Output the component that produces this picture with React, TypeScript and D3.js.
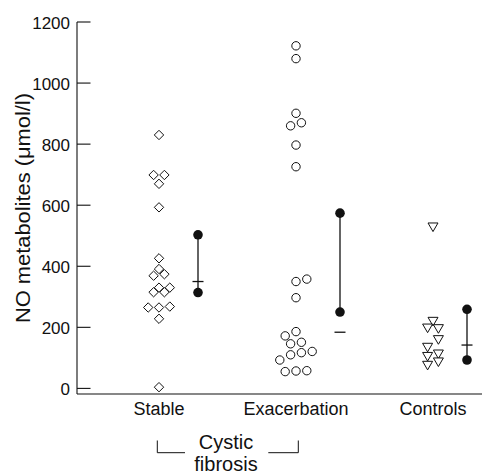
import React from "react";
import * as d3 from "d3";

const categories = ["Stable", "Exacerbation", "Controls"];

const stableValues = [830, 699, 699, 670, 593, 426, 391, 369, 374, 330, 330, 315, 315, 265, 265, 268, 228, 4];
const stableSlots = [0, -1, 1, 0, 0, 0, 0, -1, 1, 0, 2, -1, 1, -2, 0, 2, 0, 0];

const exacerbationValues = [1122, 1080, 901, 870, 860, 797, 726, 358, 350, 297, 186, 172, 146, 151, 110, 117, 121, 93, 55, 57, 58];
const exacerbationSlots = [0, 0, 0, 1, -1, 0, 0, 2, 0, 0, 0, -2, -1, 1, -1, 1, 3, -3, -2, 0, 2];

const controlsValues = [528, 219, 197, 195, 159, 134, 112, 104, 86, 75];
const controlsSlots = [0, 0, -1, 1, 1, -1, 1, -1, 1, -1];

const summaryUpper = [503, 574, 259];
const summaryLower = [314, 250, 93];
const summaryMean = [350, 184, 142];

const yTicks = [0, 200, 400, 600, 800, 1000, 1200];
const yLabel = "NO metabolites (μmol/l)";
const groupLabel = ["Cystic", "fibrosis"];

const W = 482;
const H = 474;
const FONT = "'Liberation Sans', Arial, Helvetica, sans-serif";
const INK = "#111";

export default function App() {
  const y = d3.scaleLinear().domain([0, 1200]).range([388.4, 22]);
  const x = d3.scalePoint<string>().domain(categories).range([159, 433]);
  const slotStep = 5.4;
  const whiskerOffsets = [39, 44, 34];
  const axisX = 77;
  const baseY = 394;

  const groups = [
    { values: stableValues, slots: stableSlots, shape: "diamond" },
    { values: exacerbationValues, slots: exacerbationSlots, shape: "circle" },
    { values: controlsValues, slots: controlsSlots, shape: "triangle" },
  ];

  const diamond = "M0,-4.7L4.7,0L0,4.7L-4.7,0Z";
  const triangle = "M-5,-4.2L5,-4.2L0,4.4Z";

  return (
    <svg width={W} height={H} style={{ position: "absolute", left: 0, top: 0, background: "#fff" }} fontFamily={FONT}>
      {/* axes */}
      <line x1={axisX} x2={axisX} y1={y(1200)} y2={baseY} stroke={INK} strokeWidth={1.1} />
      <line x1={axisX} x2={W} y1={baseY} y2={baseY} stroke={INK} strokeWidth={1.1} />
      {yTicks.map((t) => (
        <g key={t}>
          <line x1={axisX} x2={axisX + 13.5} y1={y(t)} y2={y(t)} stroke={INK} strokeWidth={1.1} />
          <text x={70} y={y(t) + 6.5} textAnchor="end" fontSize={17} fill={INK}>
            {t}
          </text>
        </g>
      ))}
      <text
        transform={`translate(30,208) rotate(-90)`}
        textAnchor="middle"
        fontSize={20}
        fill={INK}
        textLength={230}
        lengthAdjust="spacingAndGlyphs"
      >
        {yLabel}
      </text>

      {/* category labels */}
      {categories.map((c) => (
        <text key={c} x={x(c)} y={415} textAnchor="middle" fontSize={18} fill={INK}>
          {c}
        </text>
      ))}

      {/* group bracket */}
      <path d="M157.3,440.5V452.7H185" fill="none" stroke={INK} strokeWidth={1} />
      <path d="M268.3,452.7H298.3V440.5" fill="none" stroke={INK} strokeWidth={1} />
      <text x={226} y={449} textAnchor="middle" fontSize={20} fill={INK}>
        {groupLabel[0]}
      </text>
      <text x={226} y={470.5} textAnchor="middle" fontSize={20} fill={INK}>
        {groupLabel[1]}
      </text>

      {/* points */}
      {groups.map((g, gi) =>
        g.values.map((v, i) => {
          const cx = (x(categories[gi]) as number) + g.slots[i] * slotStep;
          const cy = y(v);
          if (g.shape === "circle") {
            return <circle key={`${gi}-${i}`} cx={cx} cy={cy} r={4.2} fill="#fff" stroke={INK} strokeWidth={1} />;
          }
          return (
            <path
              key={`${gi}-${i}`}
              d={g.shape === "diamond" ? diamond : triangle}
              transform={`translate(${cx},${cy})`}
              fill="#fff"
              stroke={INK}
              strokeWidth={1}
            />
          );
        })
      )}

      {/* summary whiskers */}
      {categories.map((c, i) => {
        const wx = (x(c) as number) + whiskerOffsets[i];
        return (
          <g key={c}>
            <line x1={wx} x2={wx} y1={y(summaryUpper[i])} y2={y(summaryLower[i])} stroke={INK} strokeWidth={1.3} />
            <line x1={wx - 5.5} x2={wx + 5.5} y1={y(summaryMean[i])} y2={y(summaryMean[i])} stroke={INK} strokeWidth={1.3} />
            <circle cx={wx} cy={y(summaryUpper[i])} r={4.8} fill={INK} />
            <circle cx={wx} cy={y(summaryLower[i])} r={4.8} fill={INK} />
          </g>
        );
      })}
    </svg>
  );
}
